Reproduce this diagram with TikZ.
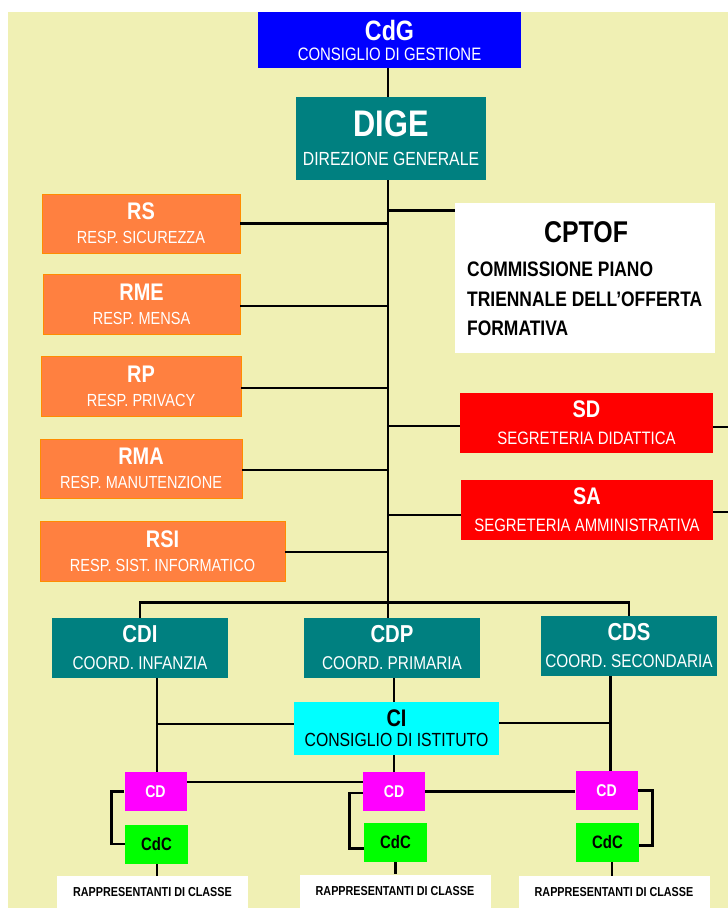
\documentclass[tikz,border=0pt]{standalone}
\usepackage{fontspec}
\setmainfont{Liberation Sans}[FakeStretch=0.83]
\usepackage{tikz}
\usepackage{xcolor}
\definecolor{fondo}{RGB}{240,240,180}
\definecolor{arancio}{RGB}{255,128,64}
\definecolor{bordo}{RGB}{255,140,0}
\definecolor{petrolio}{RGB}{0,128,128}
\definecolor{ciano}{RGB}{0,255,255}
\definecolor{fucsia}{RGB}{255,0,255}
\definecolor{verde}{RGB}{0,255,0}
\definecolor{blu}{RGB}{0,0,255}
\definecolor{rosso}{RGB}{255,0,0}
\newcommand\fsz[2]{\fontsize{#1}{#2}\selectfont}

\begin{document}
\begin{tikzpicture}[x=1pt, y=-1pt,
        link/.style={draw, line width=2.8pt},
        box/.style={inner sep=0pt, align=center, text=white, line width=0.6pt},
        resp/.style={box, fill=arancio, draw=bordo, font=\fsz{17.5}{24}},
        segr/.style={box, fill=rosso, font=\fsz{18}{27}},
        coord/.style={box, fill=petrolio, font=\fsz{18.5}{27},
            minimum width=176pt, minimum height=60pt},
        cd/.style={box, fill=fucsia, font=\fsz{17}{17}\bfseries,
            minimum width=62pt, minimum height=39pt},
        cdc/.style={box, fill=verde, text=black, font=\fsz{18}{18}\bfseries,
            minimum width=63pt, minimum height=39pt},
        rapp/.style={box, fill=white, text=black, font=\fsz{13}{13}\bfseries,
            minimum width=191pt, minimum height=33pt}]
                \useasboundingbox (0,0) rectangle (728,908);
                \fill[white] (0,0) rectangle (728,908);
                \fill[fondo] (8,12) rectangle (728,908);
                \coordinate (spine) at (388,600);
                \coordinate (edge) at (728,600);
                % vertice
                \node[box, fill=blu, font=\fsz{18}{20}, minimum width=263pt, minimum height=56pt](cdg) at (389.5,40){{\fsz{28}{28}\bfseries CdG}\\CONSIGLIO DI GESTIONE};
                \node[box, fill=petrolio, font=\fsz{19}{29}, minimum width=190pt, minimum height=83pt](dige) at (391,138.5){{\fsz{37}{37}\bfseries DIGE}\\DIREZIONE GENERALE};
                % responsabili
                \node[resp, minimum width=198pt, minimum height=59pt](rs) at (141,223.5){{\fsz{24}{24}\bfseries RS}\\RESP. SICUREZZA};
                \node[resp, minimum width=197pt, minimum height=60pt](rme) at (141.5,304){{\fsz{24}{24}\bfseries RME}\\RESP. MENSA};
                \node[resp, minimum width=200pt, minimum height=60pt](rp) at (141,386){{\fsz{24}{24}\bfseries RP}\\RESP. PRIVACY};
                \node[resp, minimum width=202pt, minimum height=59pt](rma) at (141,468.5){{\fsz{24}{24}\bfseries RMA}\\RESP. MANUTENZIONE};
                \node[resp, minimum width=245pt, minimum height=60pt](rsi) at (162.5,551){{\fsz{24}{24}\bfseries RSI}\\RESP. SIST. INFORMATICO};
                % commissione e segreterie
                \node[box, fill=white, minimum width=260pt, minimum height=150pt](cptof) at (585,278){};
                \node[inner sep=0pt, anchor=base, font=\fsz{30}{30}\bfseries](cptof-t) at (586,242){CPTOF};
                \node[inner sep=0pt, anchor=north west, align=left, font=\fsz{21}{29.3}\bfseries](cptof-d) at (467,262){COMMISSIONE PIANO\\TRIENNALE DELL'OFFERTA\\FORMATIVA};
                \node[segr, minimum width=253pt, minimum height=60pt](sd) at (586.5,423){{\fsz{24}{24}\bfseries SD}\\SEGRETERIA DIDATTICA};
                \node[segr, minimum width=252pt, minimum height=60pt](sa) at (587,510){{\fsz{24}{24}\bfseries SA}\\SEGRETERIA AMMINISTRATIVA};
                % coordinatori
                \node[coord](cdi) at (140,648){{\fsz{24.5}{24.5}\bfseries CDI}\\COORD. INFANZIA};
                \node[coord](cdp) at (392,648){{\fsz{24.5}{24.5}\bfseries CDP}\\COORD. PRIMARIA};
                \node[coord](cds) at (629,646){{\fsz{24.5}{24.5}\bfseries CDS}\\COORD. SECONDARIA};
                \node[box, fill=ciano, text=black, font=\fsz{19}{20}, minimum width=205pt, minimum height=53pt](ci) at (396.5,728.5){{\fsz{24}{24}\bfseries CI}\\CONSIGLIO DI ISTITUTO};
                % consigli
                \node[cd](cd1) at (155.5,791.5){CD};
                \node[cd](cd2) at (394,791.5){CD};
                \node[cd](cd3) at (606.5,790.5){CD};
                \node[cdc](cdc1) at (156.5,844){CdC};
                \node[cdc](cdc2) at (395.5,842.5){CdC};
                \node[cdc](cdc3) at (607.5,842.5){CdC};
                \node[rapp](r1) at (152.5,892.5){RAPPRESENTANTI DI CLASSE};
                \node[rapp](r2) at (395,891){RAPPRESENTANTI DI CLASSE};
                \node[rapp](r3) at (614,892.5){RAPPRESENTANTI DI CLASSE};
                % collegamenti
                \draw[link] (cdg.south -| spine) -- (dige.north -| spine);
                \draw[link] (dige.south -| spine) -- (cdp.north -| spine);
                \draw[link] (rs.east) -- (rs.east -| spine);
                \draw[link] ([yshift=-2pt]rme.east) -- ([yshift=-2pt]rme.east -| spine);
                \draw[link] ([yshift=-2pt]rp.east) -- ([yshift=-2pt]rp.east -| spine);
                \draw[link] ([yshift=-1.5pt]rma.east) -- ([yshift=-1.5pt]rma.east -| spine);
                \draw[link] ([yshift=-1pt]rsi.east) -- ([yshift=-1pt]rsi.east -| spine);
                \draw[link] ([yshift=-8pt]cptof.north west) -- ([yshift=-8pt]cptof.north west -| spine);
                \draw[link] ([yshift=-3pt]sd.west) -- ([yshift=-3pt]sd.west -| spine);
                \draw[link] ([yshift=-4pt]sd.east) -- ([yshift=-4pt]sd.east -| edge);
                \draw[link] ([yshift=-5pt]sa.west) -- ([yshift=-5pt]sa.west -| spine);
                \draw[link] ([yshift=-2pt]sa.east) -- ([yshift=-2pt]sa.east -| edge);
                \draw[link] (cdi.north) -- ++(0,-15) -| (cds.north);
                \draw[link] ([xshift=1.5pt]cd1.north) -- ([xshift=1.5pt]cd1.north |- cdi.south);
                \draw[link] ([xshift=4pt]cd3.north) -- ([xshift=4pt]cd3.north |- cds.south);
                \draw[link] (cd2.north |- cdp.south) -- (cd2.north |- ci.north);
                \draw[link] (cd2.north |- ci.south) -- (cd2.north);
                \draw[link] ([yshift=4.5pt]ci.west) -- ([yshift=4.5pt,xshift=1.5pt]ci.west -| cd1.north);
                \draw[link] ([yshift=5.5pt]ci.east) -- ([yshift=5.5pt,xshift=4pt]ci.east -| cd3.north);
                \draw[link] ([yshift=9.5pt]cd1.east) -- ([yshift=9.5pt]cd1.east -| cd2.west);
                \draw[link] (cd2.east) -- (cd2.east -| cd3.west);
                \draw[link] (cd1.west) -- ++(-13,0) |- (cdc1.west);
                \draw[link] ([yshift=-1.5pt]cd2.west) -- ++(-13,0) |- ([yshift=-6pt]cdc2.west);
                \draw[link] (cd3.east) -- ++(15,0) |- ([yshift=-3pt]cdc3.east);
                \draw[link] ([xshift=0.5pt]cdc1.south) -- ([xshift=0.5pt]cdc1.south |- r1.north);
                \draw[link] (cdc2.south) -- (cdc2.south |- r2.north);
                \draw[link] ([xshift=4.5pt]cdc3.south) -- ([xshift=4.5pt]cdc3.south |- r3.north);
\end{tikzpicture}
\end{document}
